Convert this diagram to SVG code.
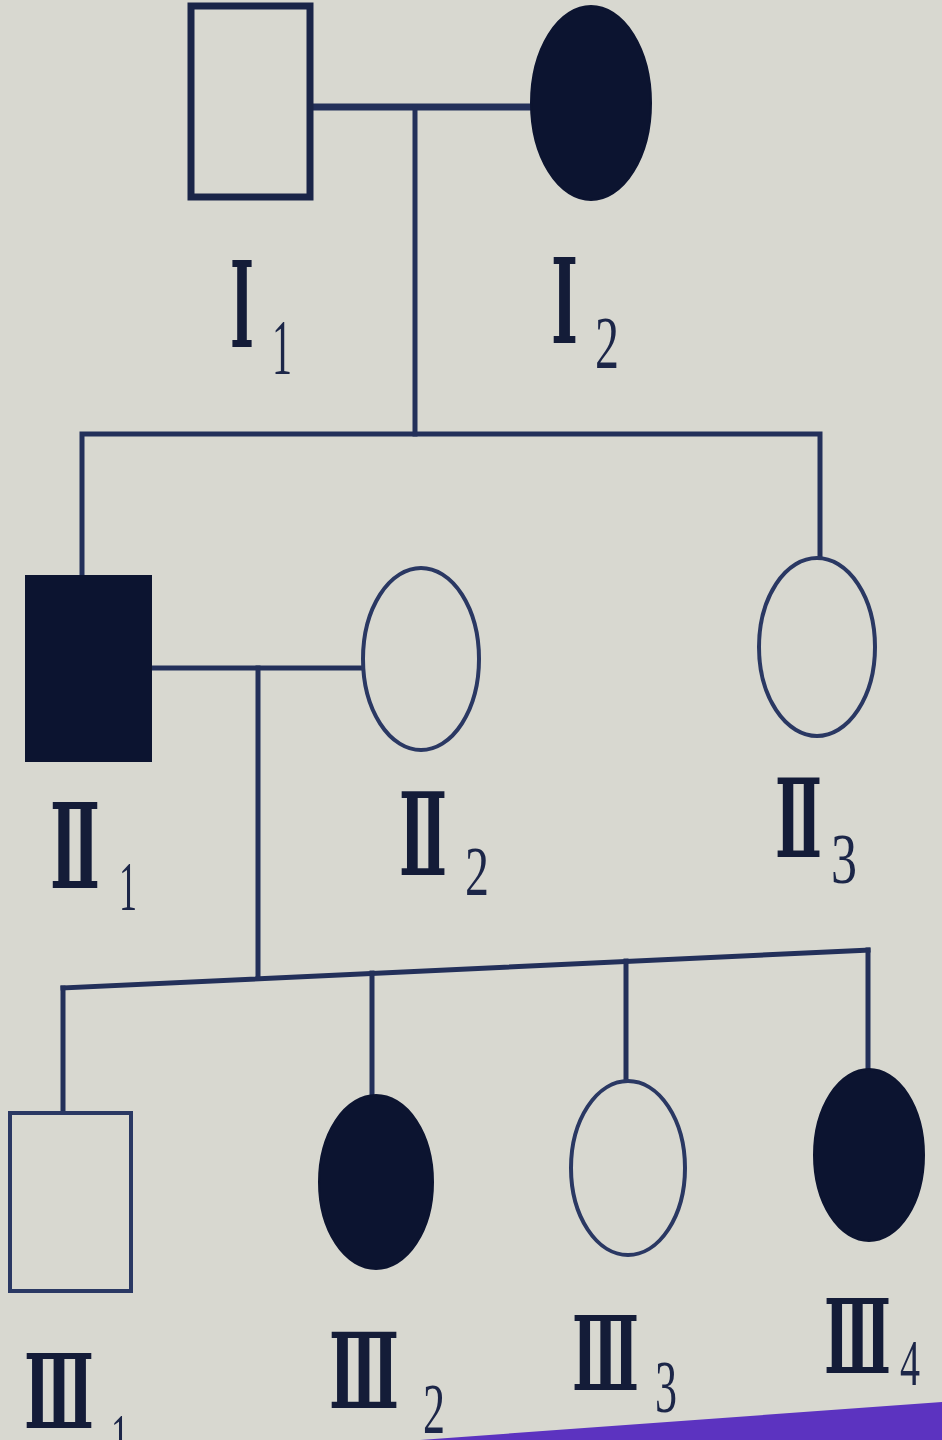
<svg xmlns="http://www.w3.org/2000/svg" width="942" height="1440" viewBox="0 0 942 1440">
<style>
.ln{stroke:#23305a;stroke-width:5;fill:none;stroke-linecap:square}
.open{fill:none;stroke:#2a3863;stroke-width:4}
.openthick{fill:none;stroke:#1a2548;stroke-width:7}
.fill{fill:#0c1430;stroke:#0c1430;stroke-width:2}
.lab{font-family:"DejaVu Serif","Noto Sans CJK SC",serif;fill:#141c38;font-weight:bold}
.sub{font-family:"Liberation Serif","Times New Roman",serif;fill:#1c2648;font-weight:normal}
</style>
<rect x="0" y="0" width="942" height="1440" fill="#d8d8d0"/>
<polygon points="420,1440 942,1402 942,1440" fill="#5c33c0"/>
<g id="connectors">
<line class="ln" x1="313" y1="107" x2="530" y2="107" style="stroke-width:7"/>
<line class="ln" x1="415" y1="107" x2="415" y2="434"/>
<polyline class="ln" points="82,575 82,434 820,434 820,557"/>
<line class="ln" x1="152" y1="668" x2="362" y2="668"/>
<line class="ln" x1="258" y1="668" x2="258" y2="977"/>
<line class="ln" x1="63" y1="988" x2="868" y2="950"/>
<line class="ln" x1="63" y1="988" x2="63" y2="1112"/>
<line class="ln" x1="372" y1="973" x2="372" y2="1095"/>
<line class="ln" x1="626" y1="961" x2="626" y2="1080"/>
<line class="ln" x1="868" y1="950" x2="868" y2="1068"/>
</g>
<g id="I1"><rect class="openthick" x="191" y="6" width="119" height="191"/>
<text class="lab" font-size="119"><tspan x="230" y="347" textLength="24" lengthAdjust="spacingAndGlyphs">Ⅰ</tspan><tspan class="sub" x="272" y="373" font-size="78" textLength="20" lengthAdjust="spacingAndGlyphs">1</tspan></text></g>
<g id="I2"><ellipse class="fill" cx="591" cy="103" rx="60" ry="97"/>
<text class="lab" font-size="117"><tspan x="551" y="343" textLength="27" lengthAdjust="spacingAndGlyphs">Ⅰ</tspan><tspan class="sub" x="595" y="368" font-size="75" textLength="24" lengthAdjust="spacingAndGlyphs">2</tspan></text></g>
<g id="II1"><rect class="fill" x="26" y="576" width="125" height="185"/>
<text class="lab" font-size="117"><tspan x="50" y="888" textLength="50" lengthAdjust="spacingAndGlyphs">Ⅱ</tspan><tspan class="sub" x="119" y="910" font-size="70" textLength="18" lengthAdjust="spacingAndGlyphs">1</tspan></text></g>
<g id="II2"><ellipse class="open" cx="421" cy="659" rx="58" ry="91"/>
<text class="lab" font-size="114"><tspan x="399" y="875" textLength="48" lengthAdjust="spacingAndGlyphs">Ⅱ</tspan><tspan class="sub" x="465" y="895" font-size="70" textLength="24" lengthAdjust="spacingAndGlyphs">2</tspan></text></g>
<g id="II3"><ellipse class="open" cx="817" cy="647" rx="58" ry="89"/>
<text class="lab" font-size="108"><tspan x="775" y="857" textLength="47" lengthAdjust="spacingAndGlyphs">Ⅱ</tspan><tspan class="sub" x="831" y="883" font-size="71" textLength="26" lengthAdjust="spacingAndGlyphs">3</tspan></text></g>
<g id="III1"><rect class="open" x="10" y="1113" width="121" height="178"/>
<text class="lab" font-size="103"><tspan x="24" y="1428" textLength="70" lengthAdjust="spacingAndGlyphs">Ⅲ</tspan><tspan class="sub" x="111" y="1460" font-size="67" textLength="18" lengthAdjust="spacingAndGlyphs">1</tspan></text></g>
<g id="III2"><ellipse class="fill" cx="376" cy="1182" rx="57" ry="87"/>
<text class="lab" font-size="104"><tspan x="329" y="1408" textLength="70" lengthAdjust="spacingAndGlyphs">Ⅲ</tspan><tspan class="sub" x="423" y="1433" font-size="71" textLength="22" lengthAdjust="spacingAndGlyphs">2</tspan></text></g>
<g id="III3"><ellipse class="open" cx="628" cy="1168" rx="57" ry="87"/>
<text class="lab" font-size="103"><tspan x="572" y="1390" textLength="67" lengthAdjust="spacingAndGlyphs">Ⅲ</tspan><tspan class="sub" x="655" y="1412" font-size="74" textLength="22" lengthAdjust="spacingAndGlyphs">3</tspan></text></g>
<g id="III4"><ellipse class="fill" cx="869" cy="1155" rx="55" ry="86"/>
<text class="lab" font-size="103"><tspan x="824" y="1373" textLength="67" lengthAdjust="spacingAndGlyphs">Ⅲ</tspan><tspan class="sub" x="900" y="1385" font-size="66" textLength="20" lengthAdjust="spacingAndGlyphs">4</tspan></text></g>
</svg>
